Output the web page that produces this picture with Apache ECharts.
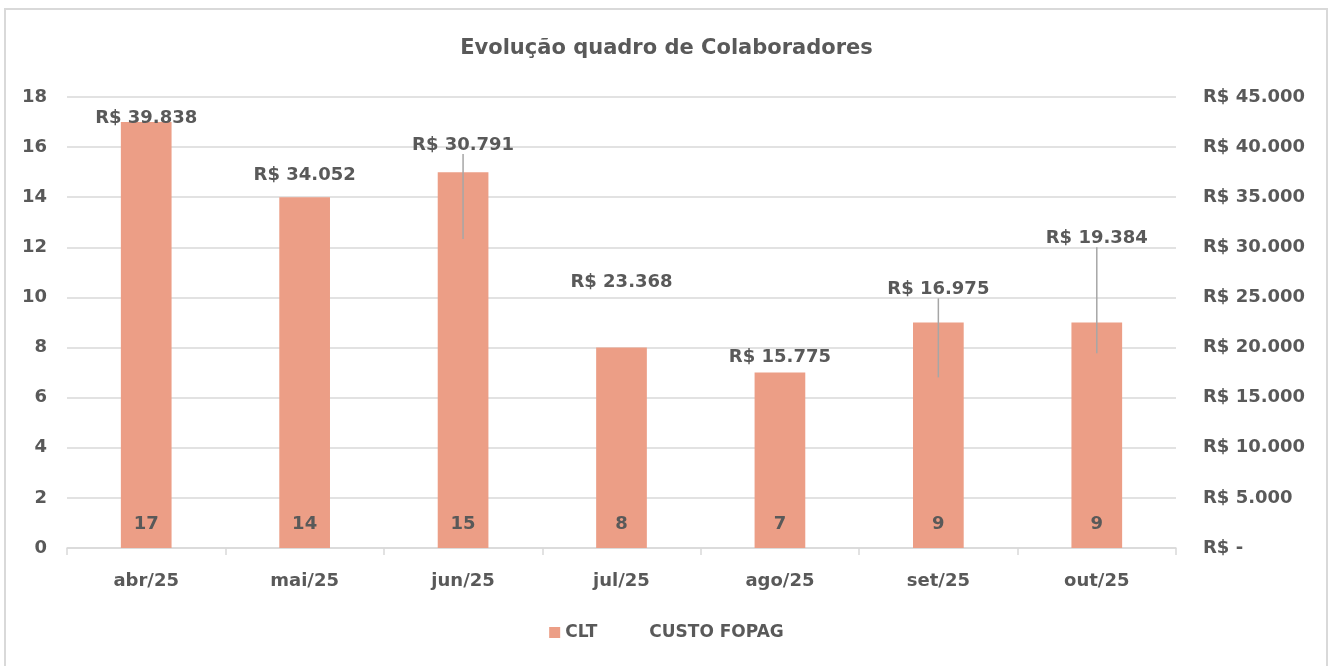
<!DOCTYPE html>
<html>
<head>
<meta charset="utf-8">
<script src="https://cdn.jsdelivr.net/npm/echarts@6/dist/echarts.min.js"></script>
<style>
html,body{margin:0;padding:0;background:#fff;}
#c{width:1333px;height:666px;}
</style>
</head>
<body>
<div id="c"></div>
<script>
const categories = ['abr/25','mai/25','jun/25','jul/25','ago/25','set/25','out/25'];
const cltValues = [17, 14, 15, 8, 7, 9, 9];
const custoValues = [39838, 34052, 30791, 23368, 15775, 16975, 19384];
const leftTicks = {min: 0, max: 18, interval: 2};
const rightTicks = {min: 0, max: 45000, interval: 5000};

// label placement (vertical shift in px) and which labels use a leader line
const labelDy = [-16, -17, -80, -17, -18, -74, -101];
const leaderLine = [false, false, true, false, false, true, true];

const FONT = '"DejaVu Sans"';
const TXT = '#595959';

function brl(v){
  if (v === 0) return 'R$ -';
  return 'R$ ' + Math.round(v).toString().replace(/\B(?=(\d{3})+(?!\d))/g, '.');
}

const chart = echarts.init(document.getElementById('c'), null, {renderer:'canvas'});
chart.setOption({
  backgroundColor: '#fff',
  animation: false,
  textStyle: {fontFamily: FONT},
  graphic: [{
    type: 'rect', silent: true, z: -1,
    shape: {x: 5, y: 9, width: 1322, height: 680},
    style: {fill: 'none', stroke: '#d9d9d9', lineWidth: 2}
  }],
  title: {
    text: 'Evolução quadro de Colaboradores',
    left: 'center', top: 33,
    textStyle: {fontFamily: FONT, fontSize: 21, fontWeight: 'bold', color: TXT}
  },
  legend: {
    bottom: 20, left: 'center', itemGap: 36, itemWidth: 11, itemHeight: 11,
    textStyle: {fontFamily: FONT, fontSize: 17, fontWeight: 'bold', color: TXT},
    data: [{name: 'CLT', icon: 'rect'}, {name: 'CUSTO FOPAG', icon: 'rect', itemStyle: {color: 'transparent'}}]
  },
  grid: {left: 67, right: 157, top: 97, bottom: 118},
  xAxis: {
    type: 'category', data: categories,
    axisLine: {lineStyle: {color: '#d9d9d9', width: 1.5}},
    axisTick: {show: true, length: 7, lineStyle: {color: '#d9d9d9', width: 1.5}},
    axisLabel: {margin: 24, fontSize: 18, fontWeight: 'bold', color: TXT, fontFamily: FONT}
  },
  yAxis: [{
    type: 'value', min: leftTicks.min, max: leftTicks.max, interval: leftTicks.interval,
    axisLine: {show: false}, axisTick: {show: false},
    splitLine: {lineStyle: {color: '#d9d9d9', width: 1.5}},
    axisLabel: {margin: 20, fontSize: 18, fontWeight: 'bold', color: TXT, fontFamily: FONT}
  }, {
    type: 'value', min: rightTicks.min, max: rightTicks.max, interval: rightTicks.interval,
    position: 'right',
    axisLine: {show: false}, axisTick: {show: false}, splitLine: {show: false},
    axisLabel: {margin: 27, fontSize: 18, fontWeight: 'bold', color: TXT, fontFamily: FONT, formatter: brl}
  }],
  series: [{
    name: 'CLT', type: 'bar', yAxisIndex: 0, data: cltValues,
    barWidth: '32%',
    itemStyle: {color: '#EC9E86'},
    label: {show: true, position: 'insideBottom', distance: 15,
      fontSize: 18, fontWeight: 'bold', color: TXT, fontFamily: FONT}
  }, {
    name: 'CUSTO FOPAG', type: 'line', yAxisIndex: 1,
    data: custoValues.map((v, i) => ({value: v, labelLine: {show: leaderLine[i]}})),
    symbol: 'circle', symbolSize: 1, showSymbol: true,
    lineStyle: {opacity: 0, width: 0},
    itemStyle: {color: 'transparent', borderWidth: 0},
    label: {show: true, position: 'top', distance: 5,
      fontSize: 18, fontWeight: 'bold', color: TXT, fontFamily: FONT,
      formatter: p => brl(p.value)},
    labelLine: {show: false, lineStyle: {color: '#a6a6a6', width: 1.5}},
    labelLayout: p => ({dy: labelDy[p.dataIndex]}),
    z: 5
  }]
});
</script>
</body>
</html>
